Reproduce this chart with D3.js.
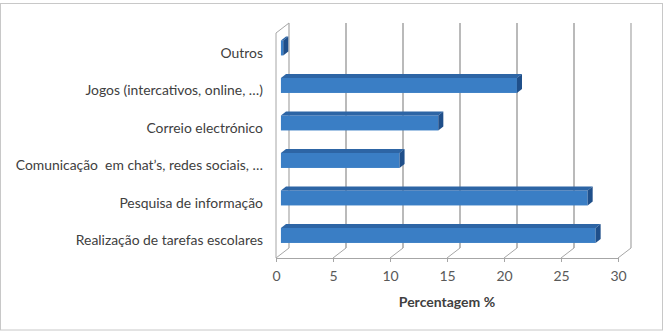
<!DOCTYPE html>
<html>
<head>
<meta charset="utf-8">
<script src="https://cdn.jsdelivr.net/npm/d3@7"></script>
<style>
  body { margin: 0; background: #fff; }
  text { font-family: Lato, "Open Sans", sans-serif; }
</style>
</head>
<body>
<div id="chart"></div>
<script>
// Chart data
const categories = [
  "Realização de tarefas escolares",
  "Pesquisa de informação",
  "Comunicação  em chat’s, redes sociais, …",
  "Correio electrónico",
  "Jogos (intercativos, online, …)",
  "Outros"
];
const values = [27.6, 26.9, 10.4, 13.8, 20.7, 0.2];
const xTicks = [0, 5, 10, 15, 20, 25, 30];
const xTitle = "Percentagem %";

const width = 667;
const height = 332;

// front plane of the 3D box
const plot = { left: 276, right: 618, top: 33, bottom: 258 };
// perspective offset for full depth
const depthX = 13;
const depthY = -10;
// bar depth range (fraction of box depth)
const d0 = 0.38, d1 = 0.77;

const svg = d3.select("#chart")
  .append("svg")
  .attr("width", width)
  .attr("height", height);

// outer border
svg.append("rect")
  .attr("x", 0.5).attr("y", 3.5)
  .attr("width", 662).attr("height", 326.5)
  .attr("fill", "none")
  .attr("stroke", "#c8c8c8");

const x = d3.scaleLinear().domain([0, 30]).range([plot.left, plot.right]);
const y = d3.scaleBand()
  .domain(categories)
  .range([plot.bottom, plot.top])
  .paddingInner(0.6)
  .paddingOuter(0.3);

const gridColor = "#8c8c8c";
const wallColor = "#a6a6a6";

// back wall gridlines
svg.append("g")
  .selectAll("line")
  .data(xTicks)
  .enter()
  .append("line")
  .attr("x1", (d) => x(d) + depthX)
  .attr("x2", (d) => x(d) + depthX)
  .attr("y1", plot.top + depthY)
  .attr("y2", plot.bottom + depthY)
  .attr("stroke", (d, i) => (i === 0 || i === xTicks.length - 1 ? wallColor : gridColor))
  .attr("stroke-width", 1.2);

// floor gridlines (slanted)
svg.append("g")
  .selectAll("line")
  .data(xTicks)
  .enter()
  .append("line")
  .attr("x1", (d) => x(d))
  .attr("y1", plot.bottom)
  .attr("x2", (d) => x(d) + depthX)
  .attr("y2", plot.bottom + depthY)
  .attr("stroke", wallColor)
  .attr("stroke-width", 1);

// side wall outline
svg.append("path")
  .attr("d", `M${plot.left},${plot.bottom} L${plot.left},${plot.top} L${plot.left + depthX},${plot.top + depthY}`)
  .attr("fill", "none")
  .attr("stroke", wallColor)
  .attr("stroke-width", 1);

// floor front edge with ticks
const xAxis = d3.axisBottom(x)
  .tickValues(xTicks)
  .tickSize(4)
  .tickPadding(9);

const axisG = svg.append("g")
  .attr("transform", `translate(0,${plot.bottom})`)
  .call(xAxis);
axisG.select(".domain").attr("stroke", wallColor);
axisG.selectAll(".tick line").attr("stroke", wallColor);
axisG.selectAll("text")
  .attr("fill", "#595959")
  .style("font-family", "Lato, sans-serif")
  .style("font-size", "14px");

// category labels
svg.append("g")
  .selectAll("text")
  .data(categories)
  .enter()
  .append("text")
  .attr("x", 263)
  .attr("y", (d) => y(d) + y.bandwidth() / 2 + 1)
  .attr("dy", "0.35em")
  .attr("text-anchor", "end")
  .attr("fill", "#404040")
  .style("font-size", "13.9px")
  .style("white-space", "pre")
  .text((d) => d);

// axis title
svg.append("text")
  .attr("x", (plot.left + plot.right) / 2)
  .attr("y", 307)
  .attr("text-anchor", "middle")
  .attr("fill", "#404040")
  .style("font-size", "14px")
  .style("font-weight", "bold")
  .text(xTitle);

// 3D bars
const bars = svg.append("g")
  .selectAll("g")
  .data(categories.map((c, i) => ({ cat: c, value: values[i] })))
  .enter()
  .append("g");

const fx0 = depthX * d0, fy0 = depthY * d0;
const fx1 = depthX * d1, fy1 = depthY * d1;
const bw = y.bandwidth();

// front face
bars.append("rect")
  .attr("x", x(0) + fx0)
  .attr("y", (d) => y(d.cat) + fy0)
  .attr("width", (d) => x(d.value) - x(0))
  .attr("height", bw)
  .attr("fill", "#3a7ec5");

// top face
bars.append("path")
  .attr("d", (d) => {
    const yt = y(d.cat);
    return `M${x(0) + fx0},${yt + fy0} L${x(d.value) + fx0},${yt + fy0} ` +
      `L${x(d.value) + fx1},${yt + fy1} L${x(0) + fx1},${yt + fy1} Z`;
  })
  .attr("fill", "#2d65a5");

// end cap
bars.append("path")
  .attr("d", (d) => {
    const yt = y(d.cat);
    const xe = x(d.value);
    return `M${xe + fx0},${yt + fy0} L${xe + fx1},${yt + fy1} ` +
      `L${xe + fx1},${yt + bw + fy1} L${xe + fx0},${yt + bw + fy0} Z`;
  })
  .attr("fill", "#1f4f8a");
</script>
</body>
</html>
